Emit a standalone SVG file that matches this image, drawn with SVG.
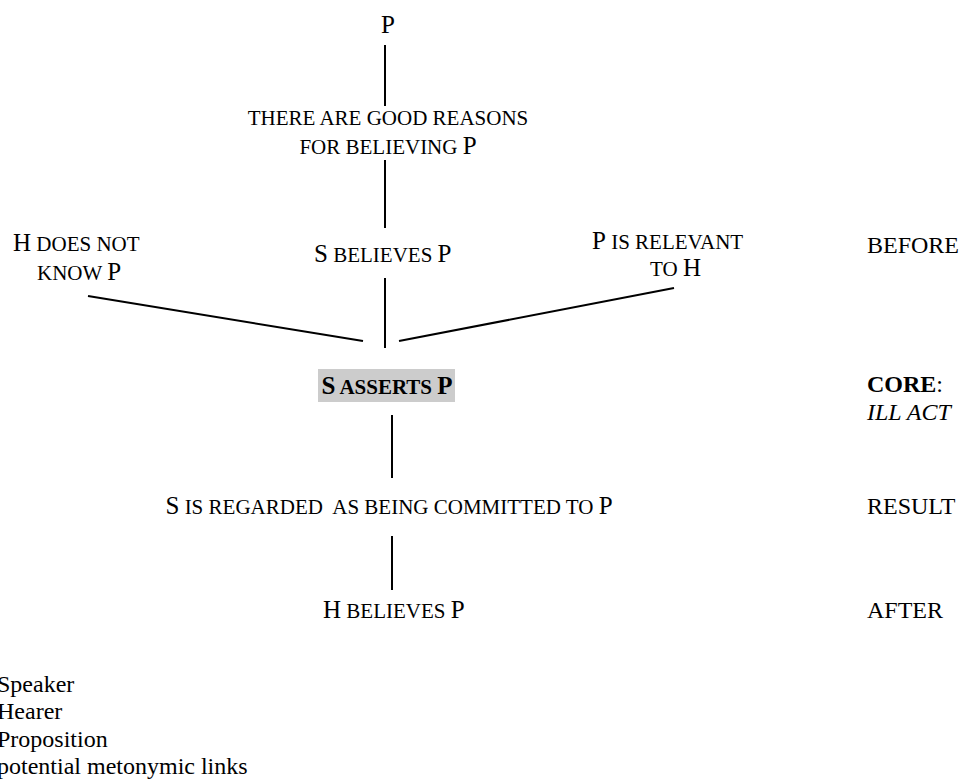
<svg xmlns="http://www.w3.org/2000/svg" width="967" height="780" viewBox="0 0 967 780">
<style>
text{font-family:"Liberation Serif","Times New Roman",serif;fill:#000;font-size:25px}
.sc{font-size:21px}
.lbl{font-size:24px}
.b{font-weight:bold}
.i{font-style:italic}
.ln{stroke:#000;stroke-width:2;fill:none}
</style>
<rect width="967" height="780" fill="#fff"/>
<g id="connectors">
<line class="ln" x1="385" y1="45" x2="385" y2="106"/>
<line class="ln" x1="385" y1="160" x2="385" y2="228"/>
<line class="ln" x1="385" y1="278" x2="385" y2="348"/>
<line class="ln" x1="88" y1="296" x2="363" y2="341"/>
<line class="ln" x1="399" y1="341" x2="674" y2="288"/>
<line class="ln" x1="392" y1="415" x2="392" y2="478"/>
<line class="ln" x1="392" y1="536" x2="392" y2="590"/>
</g>
<g id="n-p"><text x="381" y="33">P</text></g>
<g id="n-reasons">
<text x="388" y="125" text-anchor="middle" class="sc">THERE ARE GOOD REASONS</text>
<text x="388" y="154" text-anchor="middle"><tspan class="sc">FOR BELIEVING </tspan>P</text>
</g>
<g id="n-sbelieves"><text x="314" y="262">S<tspan class="sc"> BELIEVES </tspan>P</text></g>
<g id="n-hnotknow">
<text x="13" y="251">H<tspan class="sc"> DOES NOT</tspan></text>
<text x="37" y="280"><tspan class="sc">KNOW </tspan>P</text>
</g>
<g id="n-relevant">
<text x="592" y="249">P<tspan class="sc"> IS RELEVANT</tspan></text>
<text x="650" y="276"><tspan class="sc">TO </tspan>H</text>
</g>
<g id="n-asserts">
<rect x="318" y="369" width="137" height="33" fill="#cccccc"/>
<text x="387" y="394" text-anchor="middle" class="b">S<tspan class="sc"> ASSERTS </tspan>P</text>
</g>
<g id="n-committed"><text x="389" y="514" text-anchor="middle" xml:space="preserve">S<tspan class="sc"> IS REGARDED  AS BEING COMMITTED TO </tspan>P</text></g>
<g id="n-hbelieves"><text x="323" y="618">H<tspan class="sc"> BELIEVES </tspan>P</text></g>
<g id="labels">
<text x="867" y="253" class="lbl">BEFORE</text>
<text x="867" y="392" class="lbl"><tspan class="b">CORE</tspan>:</text>
<text x="867" y="420" class="lbl i">ILL ACT</text>
<text x="867" y="514" class="lbl">RESULT</text>
<text x="867" y="618" class="lbl">AFTER</text>
</g>
<g id="legend">
<text x="-3" y="692" class="lbl">Speaker</text>
<text x="-3" y="719" class="lbl">Hearer</text>
<text x="-3" y="747" class="lbl">Proposition</text>
<text x="-3" y="774" class="lbl">potential metonymic links</text>
</g>
</svg>
